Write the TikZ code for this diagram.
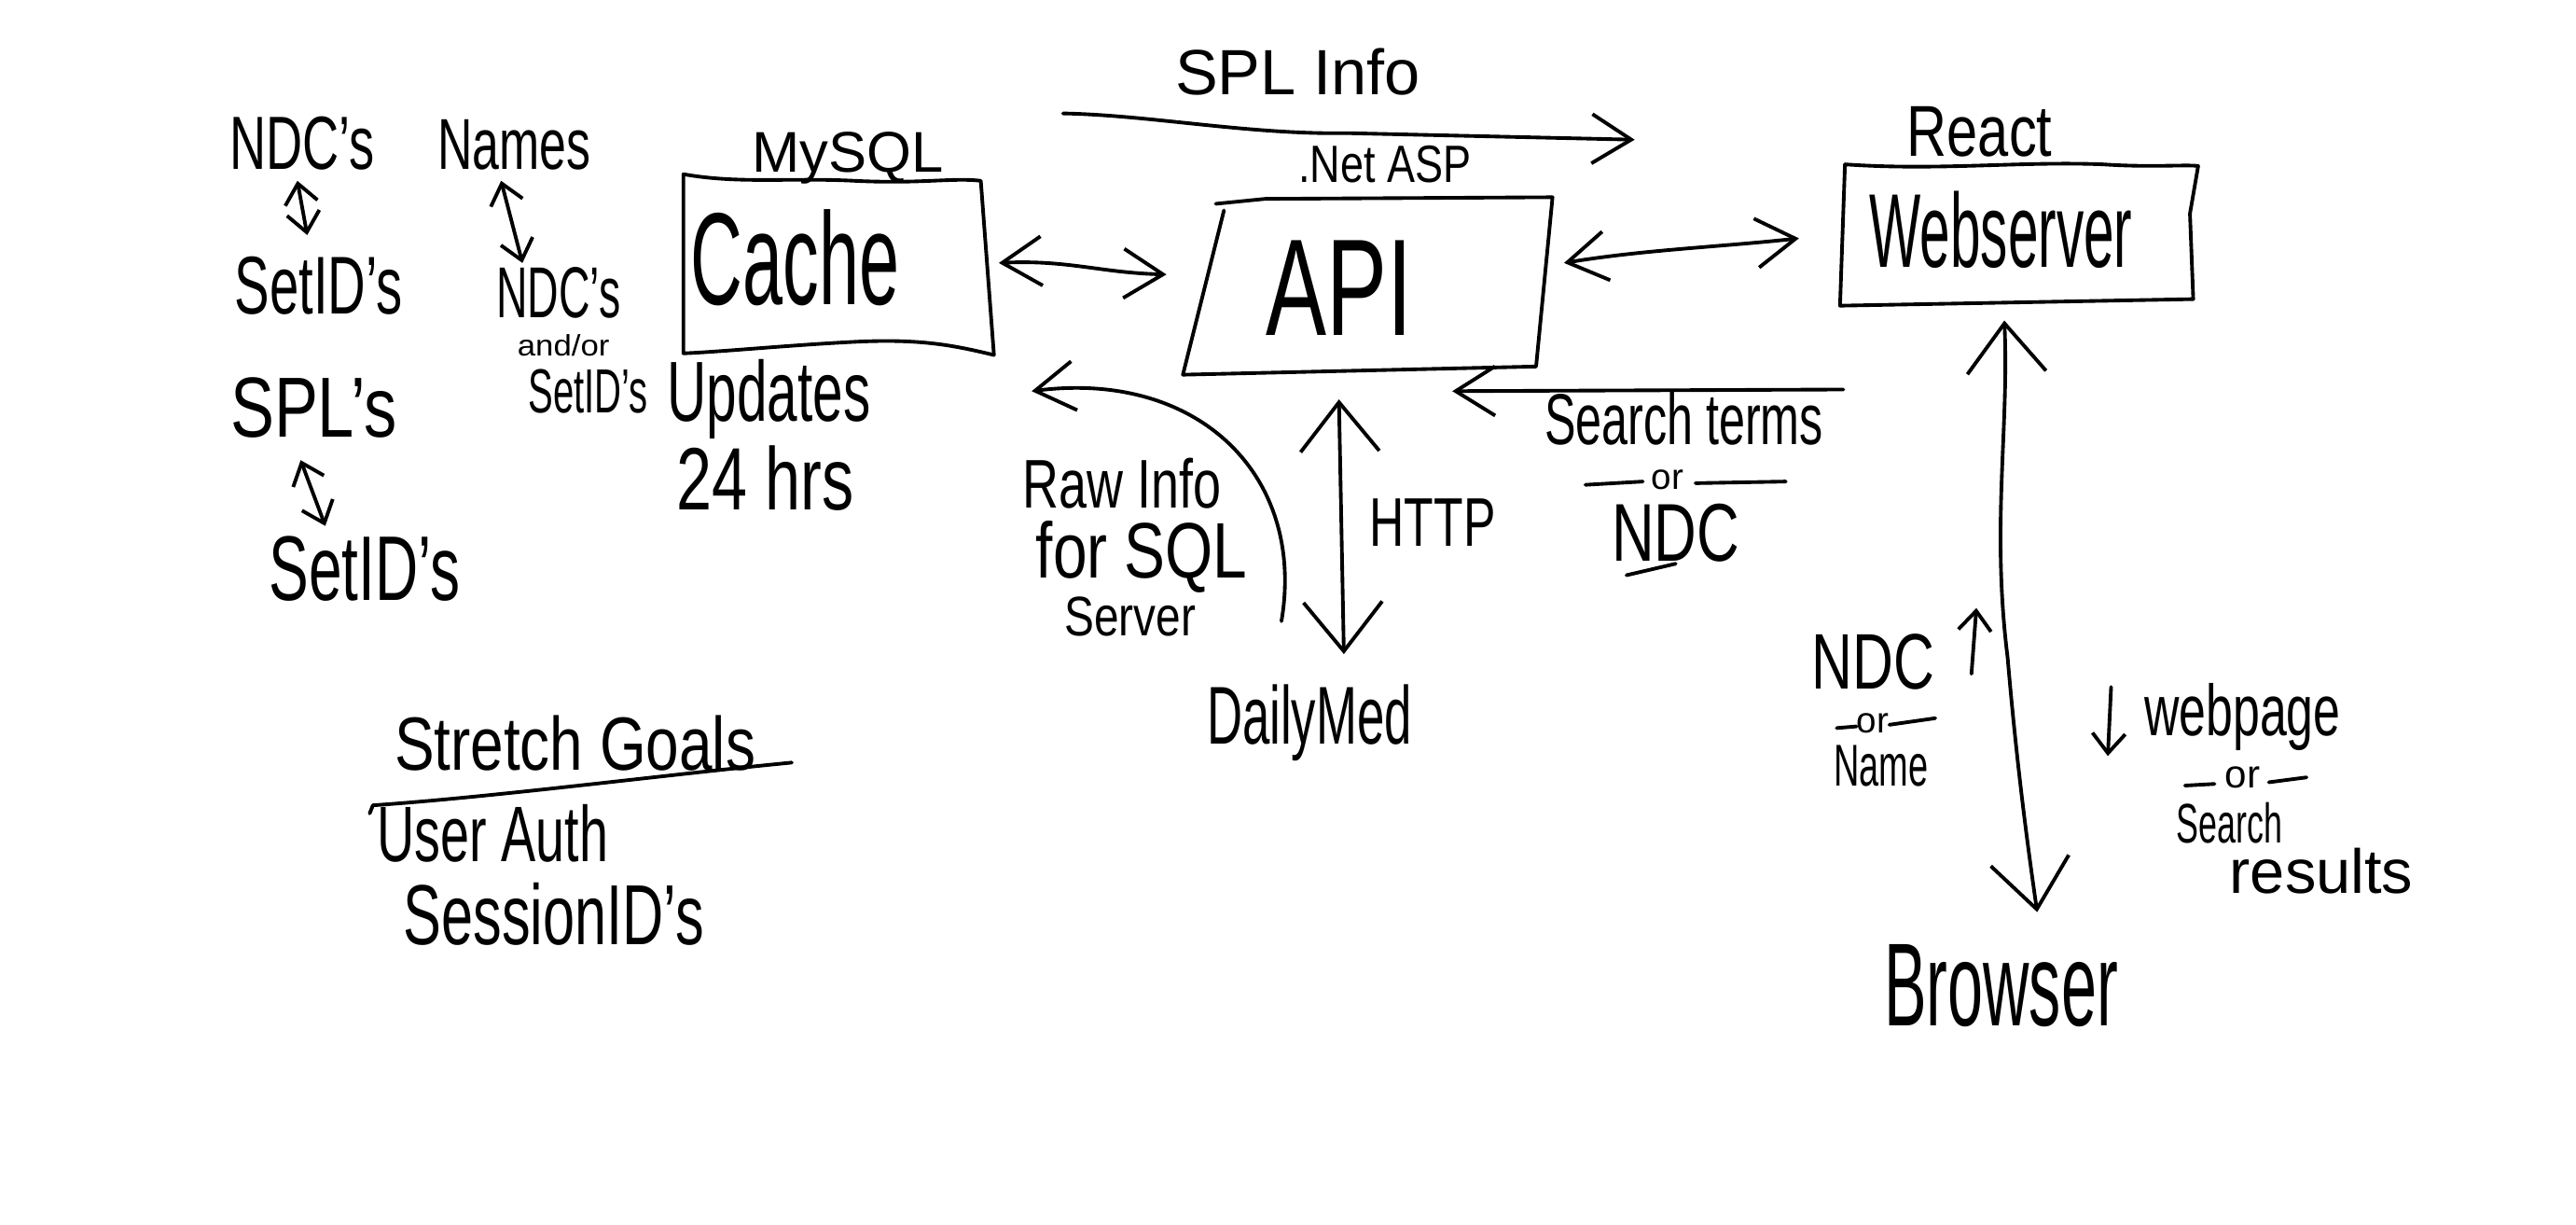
\documentclass[tikz,border=0pt]{standalone}
\usepackage{fontspec}
\setmainfont{Liberation Sans}
\usetikzlibrary{arrows.meta}
\newcommand\hw[3]{\scalebox{#2}[1]{\fontsize{#1}{#1}\selectfont #3}}
\tikzset{
  ink/.style={line width=1.1pt, line cap=round, line join=round},
  lbl/.style={inner sep=0pt, anchor=center},
  tipS/.tip={Straight Barb[length=6pt,width=10pt]},
  tipM/.tip={Straight Barb[length=12pt,width=15pt]},
  tipL/.tip={Straight Barb[length=15pt,width=24pt]}
}
\begin{document}
\begin{tikzpicture}[x=0.017615cm,y=-0.017615cm]
\path[use as bounding box, fill=white] (0,0) rectangle (1568,745);

% ---- left column texts
\node[lbl] (ndcs1) at (184,87) {\hw{23}{0.67}{NDC's}};
\node[lbl] (setid1) at (194,174) {\hw{25}{0.64}{SetID's}};
\node[lbl] (names) at (313,88) {\hw{22}{0.67}{Names}};
\node[lbl] (ndcs2) at (340,178) {\hw{22}{0.6}{NDC's}};
\node[lbl] (andor) at (343,210) {\hw{9}{1.1}{and/or}};
\node[lbl] (setid2) at (358,238) {\hw{19}{0.6}{SetID's}};
\node[lbl] (spls) at (191,248) {\hw{26}{0.77}{SPL's}};
\node[lbl] (setid3) at (222,346) {\hw{28}{0.65}{SetID's}};

% ---- cache
\node[lbl] (mysql) at (516,96) {\hw{17.5}{1}{MySQL}};
\node[lbl] (cache) at (484,157) {\hw{40}{0.55}{Cache}};
\node[lbl] (updates) at (468,243) {\hw{26}{0.64}{Updates}};
\node[lbl] (hrs) at (466,291) {\hw{27}{0.72}{24 hrs}};
\draw[ink] (416,106) .. controls (450,112) and (480,108) .. (520,110)
  .. controls (560,112) and (580,108) .. (597,110) -- (605,216)
  .. controls (580,210) and (560,206) .. (520,208)
  .. controls (480,210) and (440,214) .. (416,215) -- cycle;

% ---- API
\node[lbl] (netasp) at (843,100) {\hw{16}{0.8}{.Net ASP}};
\node[lbl] (api) at (815,175) {\hw{42}{0.66}{API}};
\draw[ink] (740,124) -- (770,121) -- (945,120) -- (935,223) -- (720,228) -- (745,128);

\node[lbl] (splinfo) at (790,44) {\hw{19.5}{1}{SPL Info}};

% ---- Webserver
\node[lbl] (react) at (1205,80) {\hw{22}{0.77}{React}};
\node[lbl] (web) at (1218,140) {\hw{32}{0.52}{Webserver}};
\draw[ink] (1123,100) .. controls (1180,104) and (1230,98) .. (1280,100)
  .. controls (1310,102) and (1330,100) .. (1338,101)
  -- (1333,130) -- (1335,182) -- (1120,186) -- cycle;

% ---- search terms
\node[lbl] (search) at (1025,255) {\hw{22}{0.65}{Search terms}};
\node[lbl] (or1) at (1015,292) {\hw{11}{1}{or}};
\node[lbl] (ndcs3) at (1020,324) {\hw{25}{0.72}{NDC}};
\draw[ink] (965,295) -- (1000,293);
\draw[ink] (1032,294) -- (1087,293);
\draw[ink] (990,350) -- (1020,343);

% ---- raw info
\node[lbl] (raw) at (683,294) {\hw{21}{0.73}{Raw Info}};
\node[lbl] (forsql) at (695,339) {\hw{24}{0.78}{for SQL}};
\node[lbl] (server) at (688,375) {\hw{17}{0.8}{Server}};

\node[lbl] (http) at (872,318) {\hw{21}{0.7}{HTTP}};
\node[lbl] (dailymed) at (797,440) {\hw{25}{0.6}{DailyMed}};

% ---- right side
\node[lbl] (ndc4) at (1140,403) {\hw{24}{0.72}{NDC}};
\node[lbl] (or2) at (1140,440) {\hw{11}{1}{or}};
\draw[ink] (1118,443) -- (1130,442);
\draw[ink] (1150,441) -- (1178,437);
\node[lbl] (name) at (1145,466) {\hw{18}{0.6}{Name}};
\node[lbl] (webpage) at (1365,436) {\hw{22}{0.67}{webpage}};
\node[lbl] (or3) at (1365,473) {\hw{12}{1}{or}};
\draw[ink] (1330,478) -- (1348,477);
\draw[ink] (1381,476) -- (1404,473);
\node[lbl] (searchr) at (1357,501) {\hw{17}{0.6}{Search}};
\node[lbl] (results) at (1413,530) {\hw{19}{1}{results}};
\node[lbl] (browser) at (1218,600) {\hw{36}{0.54}{Browser}};

% ---- stretch goals
\node[lbl] (stretch) at (350,452) {\hw{23}{0.79}{Stretch Goals}};
\node[lbl] (userauth) at (300,507) {\hw{24}{0.66}{User Auth}};
\node[lbl] (session) at (337,556) {\hw{26}{0.67}{SessionID's}};
\coordinate (sg1) at (225,495);
\coordinate (sg2) at (482,464);
\draw[ink] (sg1) -- (227,490) .. controls (300,485) and (400,472) .. (sg2);

% ---- connector end points
\coordinate (c1a) at (608,160); \coordinate (c1b) at (710,167);
\coordinate (a2a) at (952,160); \coordinate (a2b) at (1095,145);
\coordinate (spl1) at (647,69); \coordinate (spl2) at (995,85);
\coordinate (st1) at (1122,237); \coordinate (st2) at (884,238);
\coordinate (raw1) at (780,378); \coordinate (raw2) at (628,238);
\coordinate (h1) at (815,243); \coordinate (h2) at (818,398);
\coordinate (w1) at (1220,195); \coordinate (w2) at (1240,555);
\coordinate (l1a) at (181,110); \coordinate (l1b) at (187,143);
\coordinate (l2a) at (305,110); \coordinate (l2b) at (318,160);
\coordinate (l3a) at (183,280); \coordinate (l3b) at (198,320);
\coordinate (n1) at (1200,410); \coordinate (n2) at (1203,370);
\coordinate (p1) at (1285,418); \coordinate (p2) at (1283,460);

% ---- connectors
\draw[ink,{tipS}-{tipS}] (l1a) -- (l1b);
\draw[ink,{tipS}-{tipS}] (l2a) -- (l2b);
\draw[ink,{tipS}-{tipS}] (l3a) -- (l3b);
\draw[ink,{tipM}-{tipM}] (c1a) .. controls (650,158) and (670,166) .. (c1b);
\draw[ink,{tipM}-{tipM}] (a2a) .. controls (1000,152) and (1050,150) .. (a2b);
\draw[ink,-{tipM}] (spl1) .. controls (700,70) and (760,82) .. (820,81) -- (spl2);
\draw[ink,-{tipM}] (st1) -- (st2);
\draw[ink,-{tipM}] (raw1) .. controls (795,290) and (730,225) .. (raw2);
\draw[ink,{tipL}-{tipL}] (h1) -- (h2);
\draw[ink,{tipL}-{tipL}] (w1) .. controls (1223,260) and (1212,320) .. (1222,400)
  .. controls (1228,470) and (1235,520) .. (w2);
\draw[ink,-{tipS}] (n1) -- (n2);
\draw[ink,-{tipS}] (p1) -- (p2);
\end{tikzpicture}
\end{document}
